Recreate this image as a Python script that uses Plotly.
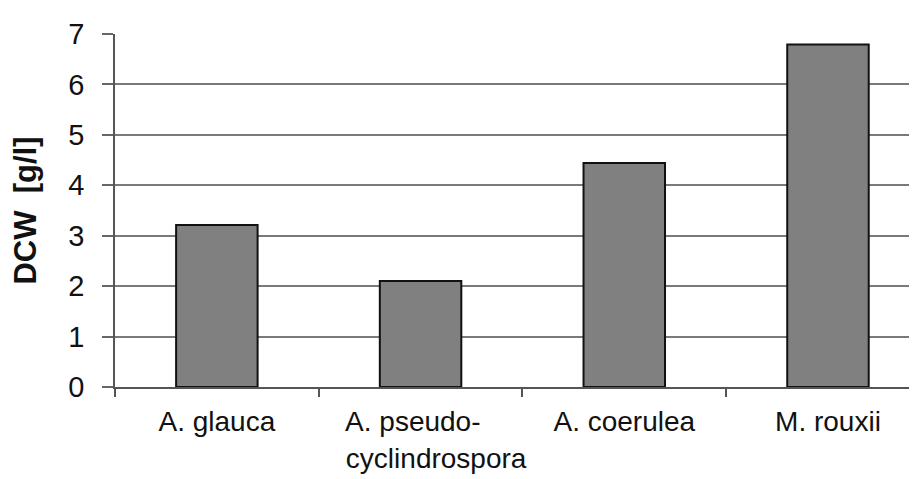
import plotly.graph_objects as go

categories = ["A. glauca", "A. pseudo-cyclindrospora", "A. coerulea", "M. rouxii"]
tick_labels = ["A. glauca",
               "A. pseudo-\u00a0\u00a0<br>\u00a0\u00a0\u00a0\u00a0cyclindrospora",
               "A. coerulea", "M. rouxii"]
dcw = [3.21, 2.1, 4.44, 6.79]

FONT = "Liberation Sans, Arial, sans-serif"

fig = go.Figure(go.Bar(
    x=categories, y=dcw, width=0.4,
    marker=dict(color="#808080", line=dict(color="#111111", width=2)),
))

# page body has an 8px default margin, so the figure is sized/offset for it
fig.update_layout(
    width=909, height=471,
    margin=dict(l=107, r=0, t=26, b=92),
    paper_bgcolor="white", plot_bgcolor="white",
    showlegend=False,
    font=dict(family=FONT, color="#111111", size=28),
)
fig.update_xaxes(
    tickmode="array", tickvals=categories, ticktext=tick_labels,
    range=[-0.5, 3.437], tickson="boundaries", tickangle=0, automargin=False,
    ticks="outside", ticklen=8, tickcolor="#555555", tickwidth=1.5,
    showline=True, linecolor="#555555", linewidth=1.5,
    showgrid=False, tickfont=dict(size=28), ticklabelstandoff=9,
)
fig.update_yaxes(
    range=[0, 7], dtick=1, tick0=0, automargin=False,
    ticks="outside", ticklen=11, tickcolor="#666666", tickwidth=1.5,
    showline=True, linecolor="#555555", linewidth=1.5,
    showgrid=True, gridcolor="#7a7a7a", gridwidth=1.5,
    zeroline=False, tickfont=dict(size=29), ticklabelstandoff=12,
    title=dict(text="<b>DCW\u00a0\u00a0[g/l]</b>", font=dict(size=31), standoff=23),
)

fig.write_html("out.html")
